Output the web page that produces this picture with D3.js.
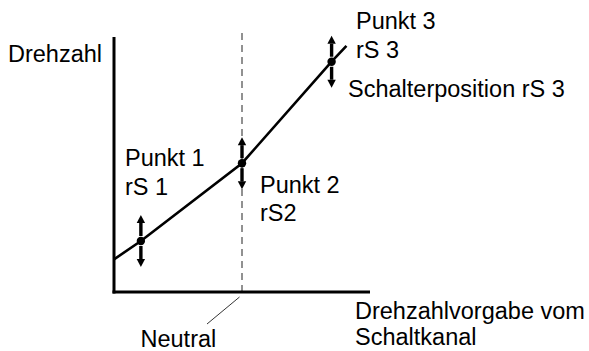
<!DOCTYPE html>
<html>
<head>
<meta charset="utf-8">
<script src="https://cdn.jsdelivr.net/npm/d3@7"></script>
<style>
  html, body { margin: 0; padding: 0; background: #fff; }
  svg { display: block; }
  text { font-family: "Liberation Sans", Arial, sans-serif; font-size: 23.5px; fill: #000; }
</style>
</head>
<body>
<div id="chart"></div>
<script>
// kennlinie: drehzahl ueber drehzahlvorgabe
const curveX = [0, 1.05, 5.0, 8.5, 9.08]
const curveY = [1.28, 2.0, 5.05, 9.03, 9.65]

// stuetzpunkte (index in curve arrays) + beschriftung
const pointIdx = [1, 2, 3]
const pointLabels = [["Punkt 1", "rS 1"], ["Punkt 2", "rS2"], ["Punkt 3", "rS 3"]]
const neutralX = 5.0

const width = 589, height = 351

const svg = d3.select("#chart").append("svg")
    .attr("width", width)
    .attr("height", height)

const x = d3.scaleLinear().domain([0, 10]).range([114, 370])
const y = d3.scaleLinear().domain([0, 10]).range([292, 37])

// neutral dashed line
svg.append("line")
    .attr("x1", x(neutralX)).attr("x2", x(neutralX))
    .attr("y1", y(10) - 4).attr("y2", y(0))
    .attr("stroke", "#6e6e6e")
    .attr("stroke-width", 1.5)
    .attr("stroke-dasharray", "7,5")

// axes (no ticks, just the two lines)
svg.append("line")
    .attr("x1", x(0)).attr("x2", x(0))
    .attr("y1", y(10)).attr("y2", y(0) + 1.5)
    .attr("stroke", "#000").attr("stroke-width", 3)
svg.append("line")
    .attr("x1", x(0) - 1.5).attr("x2", x(10))
    .attr("y1", y(0)).attr("y2", y(0))
    .attr("stroke", "#000").attr("stroke-width", 3)

// curve
const data = curveX.map((d, i) => ({x: d, y: curveY[i]}))
svg.append("path")
    .datum(data)
    .attr("fill", "none")
    .attr("stroke", "#000")
    .attr("stroke-width", 2.6)
    .attr("d", d3.line().x(d => x(d.x)).y(d => y(d.y)))

// arrows up/down at each point
function arrow(cx, y0, y1){
    const dir = y1 < y0 ? -1 : 1
    const head = 8
    svg.append("line")
        .attr("x1", cx).attr("x2", cx)
        .attr("y1", y0).attr("y2", y1 - dir * head)
        .attr("stroke", "#000").attr("stroke-width", 3.4)
    svg.append("path")
        .attr("d", `M${cx - 4.2},${y1 - dir * head} L${cx + 4.2},${y1 - dir * head} L${cx},${y1} Z`)
        .attr("fill", "#000")
}

const pts = pointIdx.map(i => data[i])
pts.forEach(p => {
    const cx = x(p.x), cy = y(p.y)
    arrow(cx, cy - 5, cy - 26)
    arrow(cx, cy + 5, cy + 26)
})

svg.append("g").selectAll("circle")
    .data(pts)
    .enter().append("circle")
    .attr("cx", d => x(d.x))
    .attr("cy", d => y(d.y))
    .attr("r", 4.2)
    .attr("fill", "#000")

// labels
const labelPos = [[125, 166], [260, 192.5], [356, 29]]
pointLabels.forEach((lines, i) => {
    const t = svg.append("text")
        .attr("x", labelPos[i][0])
        .attr("y", labelPos[i][1])
    lines.forEach((s, j) => {
        t.append("tspan")
            .attr("x", labelPos[i][0])
            .attr("dy", j == 0 ? 0 : 28.5)
            .text(s)
    })
})

svg.append("text").attr("x", 348).attr("y", 97).text("Schalterposition rS 3")
svg.append("text").attr("x", 8).attr("y", 62).text("Drehzahl")

const xl = svg.append("text").attr("x", 355).attr("y", 318.5)
xl.append("tspan").attr("x", 355).text("Drehzahlvorgabe vom")
xl.append("tspan").attr("x", 355).attr("dy", 26.5).text("Schaltkanal")

// neutral label + leader
svg.append("line")
    .attr("x1", x(neutralX) - 2.5).attr("y1", y(0) + 5)
    .attr("x2", x(neutralX) - 35).attr("y2", y(0) + 32)
    .attr("stroke", "#000").attr("stroke-width", 0.8)
svg.append("text").attr("x", 140.5).attr("y", 347).text("Neutral")
</script>
</body>
</html>
